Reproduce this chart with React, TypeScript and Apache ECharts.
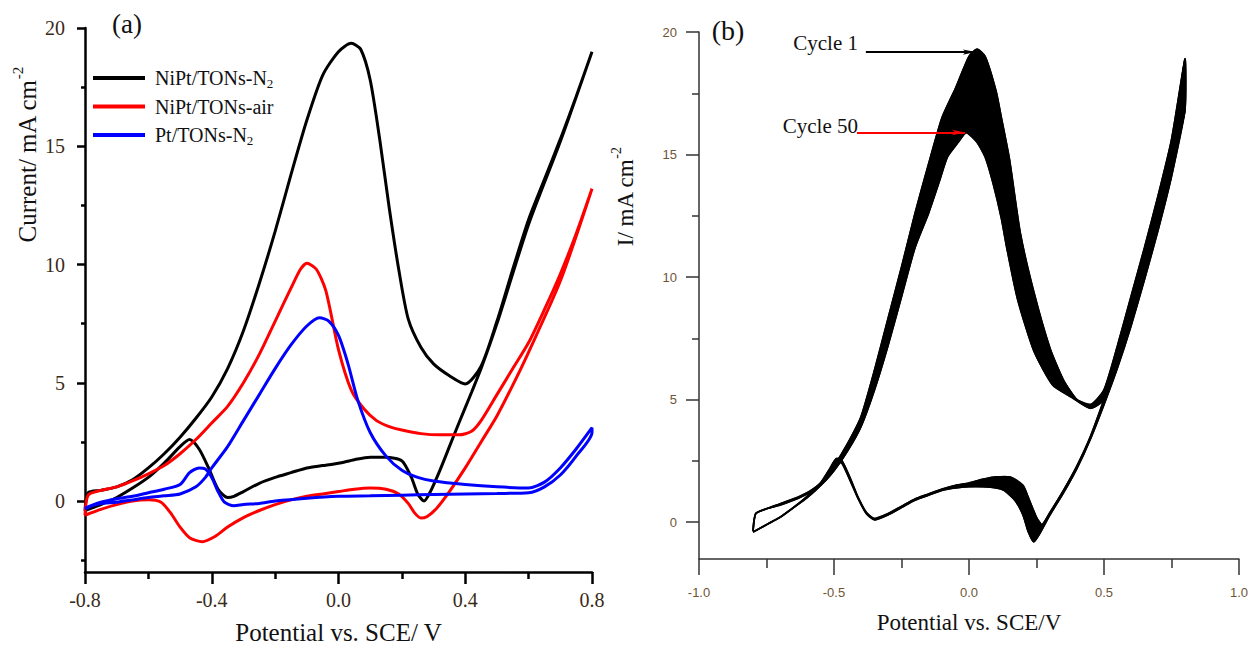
import React, { useEffect, useRef } from "react";
import * as echarts from "echarts";

// ---------- Panel (a): CV loops (potential V vs SCE, current mA cm^-2) ----------
const n2FwdV = [-0.8, -0.79, -0.75, -0.7, -0.65, -0.6, -0.55, -0.5, -0.45, -0.4, -0.35, -0.3, -0.25, -0.2, -0.15, -0.1, -0.05, 0.0, 0.04, 0.07, 0.1, 0.13, 0.16, 0.19, 0.22, 0.26, 0.3, 0.35, 0.4, 0.45, 0.5, 0.55, 0.6, 0.65, 0.7, 0.75, 0.8];
const n2FwdI = [-0.4, 0.35, 0.45, 0.6, 0.9, 1.4, 2.0, 2.7, 3.5, 4.4, 5.6, 7.2, 9.2, 11.4, 13.8, 16.1, 18.0, 19.0, 19.35, 19.1, 17.8, 15.3, 12.4, 9.8, 7.7, 6.5, 5.8, 5.3, 4.95, 5.7, 7.6, 9.8, 11.9, 13.6, 15.3, 17.1, 19.0];
const n2BwdV = [0.8, 0.7, 0.6, 0.5, 0.45, 0.42, 0.38, 0.35, 0.32, 0.29, 0.27, 0.25, 0.23, 0.2, 0.15, 0.1, 0.05, 0.0, -0.05, -0.1, -0.15, -0.2, -0.25, -0.3, -0.33, -0.35, -0.38, -0.41, -0.44, -0.47, -0.5, -0.55, -0.6, -0.65, -0.7, -0.75, -0.8];
const n2BwdI = [19.0, 15.2, 11.7, 7.5, 5.6, 4.6, 3.3, 2.3, 1.3, 0.4, 0.0, 0.3, 1.0, 1.7, 1.85, 1.85, 1.75, 1.6, 1.5, 1.4, 1.2, 1.0, 0.75, 0.4, 0.2, 0.15, 0.5, 1.4, 2.2, 2.6, 2.3, 1.6, 1.0, 0.55, 0.15, -0.15, -0.4];

const airFwdV = [-0.8, -0.79, -0.75, -0.7, -0.65, -0.6, -0.55, -0.5, -0.45, -0.4, -0.35, -0.3, -0.25, -0.2, -0.15, -0.12, -0.1, -0.07, -0.04, 0.0, 0.04, 0.08, 0.12, 0.16, 0.2, 0.26, 0.32, 0.38, 0.42, 0.45, 0.5, 0.55, 0.6, 0.65, 0.7, 0.75, 0.8];
const airFwdI = [-0.6, 0.25, 0.45, 0.6, 0.85, 1.15, 1.5, 2.0, 2.6, 3.3, 4.0, 5.0, 6.2, 7.6, 9.0, 9.8, 10.05, 9.8, 8.9, 6.4, 4.7, 3.9, 3.4, 3.15, 3.0, 2.85, 2.8, 2.8, 2.95, 3.4, 4.5, 5.6, 6.7, 8.1, 9.6, 11.3, 13.2];
const airBwdV = [0.8, 0.7, 0.6, 0.55, 0.5, 0.45, 0.4, 0.35, 0.31, 0.28, 0.26, 0.24, 0.22, 0.19, 0.15, 0.1, 0.05, 0.0, -0.05, -0.1, -0.15, -0.2, -0.25, -0.3, -0.35, -0.39, -0.43, -0.47, -0.5, -0.53, -0.56, -0.6, -0.65, -0.7, -0.75, -0.8];
const airBwdI = [13.2, 9.3, 6.3, 4.9, 3.6, 2.5, 1.4, 0.4, -0.3, -0.65, -0.72, -0.5, -0.1, 0.3, 0.5, 0.55, 0.5, 0.4, 0.3, 0.2, 0.05, -0.15, -0.4, -0.7, -1.1, -1.5, -1.72, -1.55, -1.1, -0.5, -0.05, 0.05, 0.0, -0.15, -0.35, -0.6];

const ptFwdV = [-0.8, -0.78, -0.75, -0.7, -0.65, -0.6, -0.55, -0.5, -0.45, -0.42, -0.4, -0.35, -0.3, -0.25, -0.2, -0.15, -0.1, -0.06, -0.03, 0.0, 0.03, 0.06, 0.1, 0.15, 0.2, 0.25, 0.3, 0.4, 0.5, 0.6, 0.65, 0.7, 0.75, 0.8];
const ptFwdI = [-0.35, -0.2, -0.1, -0.05, 0.05, 0.15, 0.22, 0.3, 0.6, 1.0, 1.4, 2.3, 3.4, 4.5, 5.6, 6.6, 7.4, 7.75, 7.6, 7.0, 5.8, 4.3, 2.9, 1.9, 1.3, 1.0, 0.85, 0.7, 0.6, 0.55, 0.8, 1.4, 2.2, 3.1];
const ptBwdV = [0.8, 0.75, 0.7, 0.65, 0.6, 0.5, 0.4, 0.3, 0.2, 0.1, 0.0, -0.1, -0.2, -0.25, -0.3, -0.33, -0.36, -0.38, -0.4, -0.42, -0.44, -0.47, -0.5, -0.55, -0.6, -0.65, -0.7, -0.75, -0.8];
const ptBwdI = [2.9, 1.9, 1.1, 0.6, 0.35, 0.32, 0.3, 0.28, 0.25, 0.22, 0.2, 0.12, 0.0, -0.1, -0.15, -0.2, -0.05, 0.4, 1.0, 1.35, 1.4, 1.2, 0.7, 0.5, 0.35, 0.2, 0.1, -0.05, -0.3];

// ---------- Panel (b): cycle 1 and cycle 50 ----------
const c1FwdV = [-0.8, -0.79, -0.75, -0.7, -0.65, -0.6, -0.55, -0.5, -0.45, -0.4, -0.35, -0.3, -0.25, -0.2, -0.15, -0.1, -0.05, 0.0, 0.03, 0.06, 0.1, 0.12, 0.15, 0.19, 0.24, 0.3, 0.35, 0.4, 0.45, 0.5, 0.55, 0.6, 0.65, 0.7, 0.75, 0.8];
const c1FwdI = [-0.35, 0.35, 0.55, 0.75, 0.95, 1.2, 1.6, 2.3, 3.2, 4.3, 6.2, 8.3, 10.4, 12.6, 14.6, 16.5, 17.7, 19.0, 19.3, 19.0, 17.6, 16.5, 14.8, 11.8, 9.4, 7.1, 5.8, 5.0, 4.8, 5.4, 7.2, 9.2, 11.2, 13.3, 15.6, 18.9];
const c1BwdV = [0.8, 0.75, 0.7, 0.65, 0.6, 0.55, 0.5, 0.45, 0.4, 0.35, 0.3, 0.27, 0.25, 0.22, 0.2, 0.15, 0.1, 0.05, 0.0, -0.05, -0.1, -0.15, -0.2, -0.25, -0.3, -0.35, -0.38, -0.41, -0.44, -0.47, -0.49, -0.52, -0.55, -0.6, -0.65, -0.7, -0.75, -0.8];
const c1BwdI = [18.9, 15.2, 12.7, 10.5, 8.5, 6.6, 5.0, 3.5, 2.3, 1.3, 0.4, -0.1, 0.2, 1.0, 1.5, 1.85, 1.85, 1.75, 1.6, 1.5, 1.35, 1.15, 0.95, 0.65, 0.35, 0.15, 0.4, 1.0, 1.8, 2.5, 2.6, 2.1, 1.6, 1.05, 0.6, 0.2, -0.1, -0.4];

const c50FwdV = [-0.8, -0.79, -0.75, -0.7, -0.65, -0.6, -0.55, -0.5, -0.45, -0.4, -0.35, -0.3, -0.25, -0.2, -0.15, -0.11, -0.08, -0.04, -0.01, 0.03, 0.06, 0.09, 0.12, 0.14, 0.18, 0.24, 0.31, 0.38, 0.45, 0.5, 0.55, 0.6, 0.65, 0.7, 0.75, 0.8];
const c50FwdI = [-0.35, 0.35, 0.55, 0.7, 0.9, 1.15, 1.5, 2.1, 2.9, 3.9, 5.4, 7.2, 9.2, 11.2, 12.6, 13.9, 14.9, 15.5, 15.9, 15.5, 14.9, 13.8, 12.4, 11.2, 9.1, 7.0, 5.6, 5.1, 4.65, 5.0, 6.7, 8.5, 10.4, 12.4, 14.5, 16.8];
const c50BwdV = [0.8, 0.75, 0.7, 0.65, 0.6, 0.55, 0.5, 0.45, 0.4, 0.35, 0.3, 0.26, 0.24, 0.22, 0.2, 0.17, 0.13, 0.1, 0.05, 0.0, -0.05, -0.1, -0.15, -0.2, -0.25, -0.3, -0.35, -0.38, -0.41, -0.44, -0.47, -0.49, -0.52, -0.55, -0.6, -0.65, -0.7, -0.75, -0.8];
const c50BwdI = [16.8, 14.1, 11.9, 9.9, 8.0, 6.3, 4.8, 3.4, 2.2, 1.2, 0.3, -0.5, -0.8, -0.4, 0.3, 0.9, 1.3, 1.4, 1.45, 1.45, 1.4, 1.3, 1.1, 0.9, 0.6, 0.3, 0.1, 0.35, 0.95, 1.7, 2.4, 2.5, 2.0, 1.5, 1.0, 0.6, 0.2, -0.1, -0.4];

// Annotation arrows (data coordinates of panel b)
const cycle1ArrowFrom = [-0.382, 19.18];
const cycle1ArrowTo = [0.025, 19.18];
const cycle50ArrowFrom = [-0.415, 15.9];
const cycle50ArrowTo = [-0.015, 15.9];

// Tick values
const aMajorY = [0, 5, 10, 15, 20];
const aMinorY = [-2.5, 2.5, 7.5, 12.5, 17.5];
const bMajorY = [0, 5, 10, 15, 20];
const bMinorY = [2.5, 7.5, 12.5, 17.5];

const SERIF = '"Liberation Serif", "Times New Roman", serif';
const SANS = '"Liberation Sans", Arial, sans-serif';
const LAB_A = "#3a2a18";
const LAB_B = "#6e5535";

const zip = (v: number[], i: number[]) => v.map((x, k) => [x, i[k]]);
const fmt1 = (v: number) => (Math.abs(v) < 1e-9 ? 0 : v).toFixed(1);
const fmtMult5 = (v: number) => (Math.abs(v % 5) < 1e-6 ? String(Math.round(v)) : "");

export default function App() {
  const ref = useRef<HTMLDivElement>(null);
  useEffect(() => {
    const chart = echarts.init(ref.current as HTMLDivElement, null, { renderer: "svg" });
    const bandFwd = [...zip(c1FwdV, c1FwdI), ...zip(c50FwdV, c50FwdI).reverse()];
    const bandBwd = [...zip(c1BwdV, c1BwdI), ...zip(c50BwdV, c50BwdI).reverse()];

    const axA = { color: "#000", width: 2.5 };
    const axB = { color: "#333", width: 1.5 };

    const option: any = {
      animation: false,
      backgroundColor: "#fff",
      grid: [
        { left: 85, top: 28, width: 507, height: 549 },
        { left: 699, top: 32, width: 544, height: 527 },
      ],
      xAxis: [
        {
          gridIndex: 0, type: "value", min: -0.8, max: 0.8, interval: 0.4,
          axisLine: { show: true, onZero: false, lineStyle: axA },
          axisTick: { show: true, length: 12, lineStyle: axA },
          minorTick: { show: true, splitNumber: 2, length: 7, lineStyle: axA },
          splitLine: { show: false }, minorSplitLine: { show: false },
          axisLabel: { margin: 18, fontSize: 20, fontFamily: SERIF, color: LAB_A, formatter: fmt1 },
          name: "Potential vs. SCE/ V", nameLocation: "middle", nameGap: 48,
          nameTextStyle: { fontSize: 25, fontFamily: SERIF, color: "#111" },
        },
        {
          gridIndex: 1, type: "value", min: -1, max: 1, interval: 0.5,
          axisLine: { show: true, onZero: false, lineStyle: axB },
          axisTick: { show: true, length: 16, lineStyle: axB },
          minorTick: { show: true, splitNumber: 2, length: 9, lineStyle: axB },
          splitLine: { show: false }, minorSplitLine: { show: false },
          axisLabel: { margin: 27, fontSize: 13, fontFamily: SANS, color: LAB_B, formatter: fmt1 },
          name: "Potential vs. SCE/V", nameLocation: "middle", nameGap: 52,
          nameTextStyle: { fontSize: 23, fontFamily: SERIF, color: "#111" },
        },
      ],
      yAxis: [
        {
          gridIndex: 0, type: "value", min: -3, max: 20, minInterval: 5, maxInterval: 5, position: "left",
          axisLine: { show: true, onZero: false, lineStyle: axA },
          axisTick: { show: true, length: 8, customValues: aMajorY, lineStyle: axA },
          axisLabel: { customValues: aMajorY, margin: 20, fontSize: 20, fontFamily: SERIF, color: LAB_A, formatter: fmtMult5 },
          splitLine: { show: false },
        },
        {
          gridIndex: 0, type: "value", min: -3, max: 20, minInterval: 2.5, maxInterval: 2.5, position: "left",
          axisLine: { show: false, onZero: false },
          axisTick: { show: true, length: 4, customValues: aMinorY, lineStyle: axA },
          axisLabel: { show: false },
          splitLine: { show: false },
        },
        {
          gridIndex: 1, type: "value", min: -1.5, max: 20, minInterval: 5, maxInterval: 5, position: "left",
          axisLine: { show: true, onZero: false, lineStyle: axB },
          axisTick: { show: true, length: 13, customValues: bMajorY, lineStyle: axB },
          axisLabel: { customValues: bMajorY, margin: 22, fontSize: 13, fontFamily: SANS, color: LAB_B, formatter: fmtMult5 },
          splitLine: { show: false },
        },
        {
          gridIndex: 1, type: "value", min: -1.5, max: 20, minInterval: 2.5, maxInterval: 2.5, position: "left",
          axisLine: { show: false, onZero: false },
          axisTick: { show: true, length: 7, customValues: bMinorY, lineStyle: axB },
          axisLabel: { show: false },
          splitLine: { show: false },
        },
      ],
      legend: {
        data: ["NiPt/TONs-N2", "NiPt/TONs-air", "Pt/TONs-N2"],
        orient: "vertical", left: 93, top: 66, padding: 0,
        itemWidth: 52, itemHeight: 4, itemGap: 4.5, icon: "rect", selectedMode: false,
        formatter: (n: string) => (n.endsWith("-N2") ? n.slice(0, -1) + "{sub|2}" : n),
        textStyle: {
          fontFamily: SERIF, fontSize: 20, color: "#111", lineHeight: 24, padding: [0, 0, 0, 5],
          rich: { sub: { fontFamily: SERIF, fontSize: 13, lineHeight: 13, verticalAlign: "bottom", color: "#111" } },
        },
      },
      graphic: [
        { type: "text", x: 127, y: 24, style: { text: "(a)", fontSize: 27, fontFamily: SERIF, fill: "#111", align: "center", verticalAlign: "middle" } },
        { type: "text", x: 728, y: 30, style: { text: "(b)", fontSize: 28, fontFamily: SERIF, fill: "#111", align: "center", verticalAlign: "middle" } },
        { type: "text", x: 858, y: 43, style: { text: "Cycle 1", fontSize: 21, fontFamily: SERIF, fill: "#111", align: "right", verticalAlign: "middle" } },
        { type: "text", x: 858, y: 126, style: { text: "Cycle 50", fontSize: 21, fontFamily: SERIF, fill: "#111", align: "right", verticalAlign: "middle" } },
        {
          type: "text", x: 27, y: 155, rotation: Math.PI / 2,
          style: {
            text: "Current/ mA cm{sup|-2}", fontSize: 25, fontFamily: SERIF, fill: "#111", align: "center", verticalAlign: "middle", lineHeight: 34,
            rich: { sup: { fontSize: 15, lineHeight: 15, verticalAlign: "top", fontFamily: SERIF, fill: "#111" } },
          },
        },
        {
          type: "text", x: 625, y: 197, rotation: Math.PI / 2,
          style: {
            text: "I/ mA cm{sup|-2}", fontSize: 23, fontFamily: SERIF, fill: "#111", align: "center", verticalAlign: "middle", lineHeight: 32,
            rich: { sup: { fontSize: 14, lineHeight: 14, verticalAlign: "top", fontFamily: SERIF, fill: "#111" } },
          },
        },
      ],
      series: [
        {
          name: "NiPt/TONs-N2", type: "line", xAxisIndex: 0, yAxisIndex: 0, smooth: 0.25, showSymbol: false, symbol: "none",
          data: [...zip(n2FwdV, n2FwdI), ...zip(n2BwdV, n2BwdI)],
          lineStyle: { color: "#000000", width: 3 }, itemStyle: { color: "#000000" },
        },
        {
          name: "NiPt/TONs-air", type: "line", xAxisIndex: 0, yAxisIndex: 0, smooth: 0.25, showSymbol: false, symbol: "none",
          data: [...zip(airFwdV, airFwdI), ...zip(airBwdV, airBwdI)],
          lineStyle: { color: "#ff0000", width: 3 }, itemStyle: { color: "#ff0000" },
        },
        {
          name: "Pt/TONs-N2", type: "line", xAxisIndex: 0, yAxisIndex: 0, smooth: 0.25, showSymbol: false, symbol: "none",
          data: [...zip(ptFwdV, ptFwdI), ...zip(ptBwdV, ptBwdI)],
          lineStyle: { color: "#0000ff", width: 3 }, itemStyle: { color: "#0000ff" },
        },
        {
          type: "custom", xAxisIndex: 1, yAxisIndex: 2, silent: true, data: [[0, 0]],
          renderItem: (_p: any, api: any) => ({
            type: "group",
            children: [
              { type: "polygon", shape: { points: bandFwd.map((p) => api.coord(p)), smooth: 0.2 }, style: { fill: "#000", stroke: "#000", lineWidth: 1.5 } },
              { type: "polygon", shape: { points: bandBwd.map((p) => api.coord(p)), smooth: 0.2 }, style: { fill: "#000", stroke: "#000", lineWidth: 1.5 } },
            ],
          }),
        },
        {
          name: "Cycle 1", type: "line", xAxisIndex: 1, yAxisIndex: 2, smooth: 0.2, showSymbol: false, symbol: "none",
          data: [...zip(c1FwdV, c1FwdI), ...zip(c1BwdV, c1BwdI)],
          lineStyle: { color: "#000", width: 1.8 }, itemStyle: { color: "#000" },
          markLine: {
            silent: true, symbol: ["none", "arrow"], symbolSize: [4, 13], label: { show: false },
            lineStyle: { type: "solid", width: 2, color: "#000" },
            data: [
              [{ coord: cycle1ArrowFrom, lineStyle: { color: "#000", width: 2, type: "solid" } }, { coord: cycle1ArrowTo }],
              [{ coord: cycle50ArrowFrom, lineStyle: { color: "#ff0000", width: 2, type: "solid" }, itemStyle: { color: "#ff0000" } }, { coord: cycle50ArrowTo }],
            ],
          },
        },
        {
          name: "Cycle 50", type: "line", xAxisIndex: 1, yAxisIndex: 2, smooth: 0.2, showSymbol: false, symbol: "none",
          data: [...zip(c50FwdV, c50FwdI), ...zip(c50BwdV, c50BwdI)],
          lineStyle: { color: "#000", width: 1.8 }, itemStyle: { color: "#000" },
        },
      ],
    };
    chart.setOption(option);
    return () => chart.dispose();
  }, []);
  return <div ref={ref} style={{ position: "absolute", left: 0, top: 0, width: 1251, height: 650 }} />;
}
